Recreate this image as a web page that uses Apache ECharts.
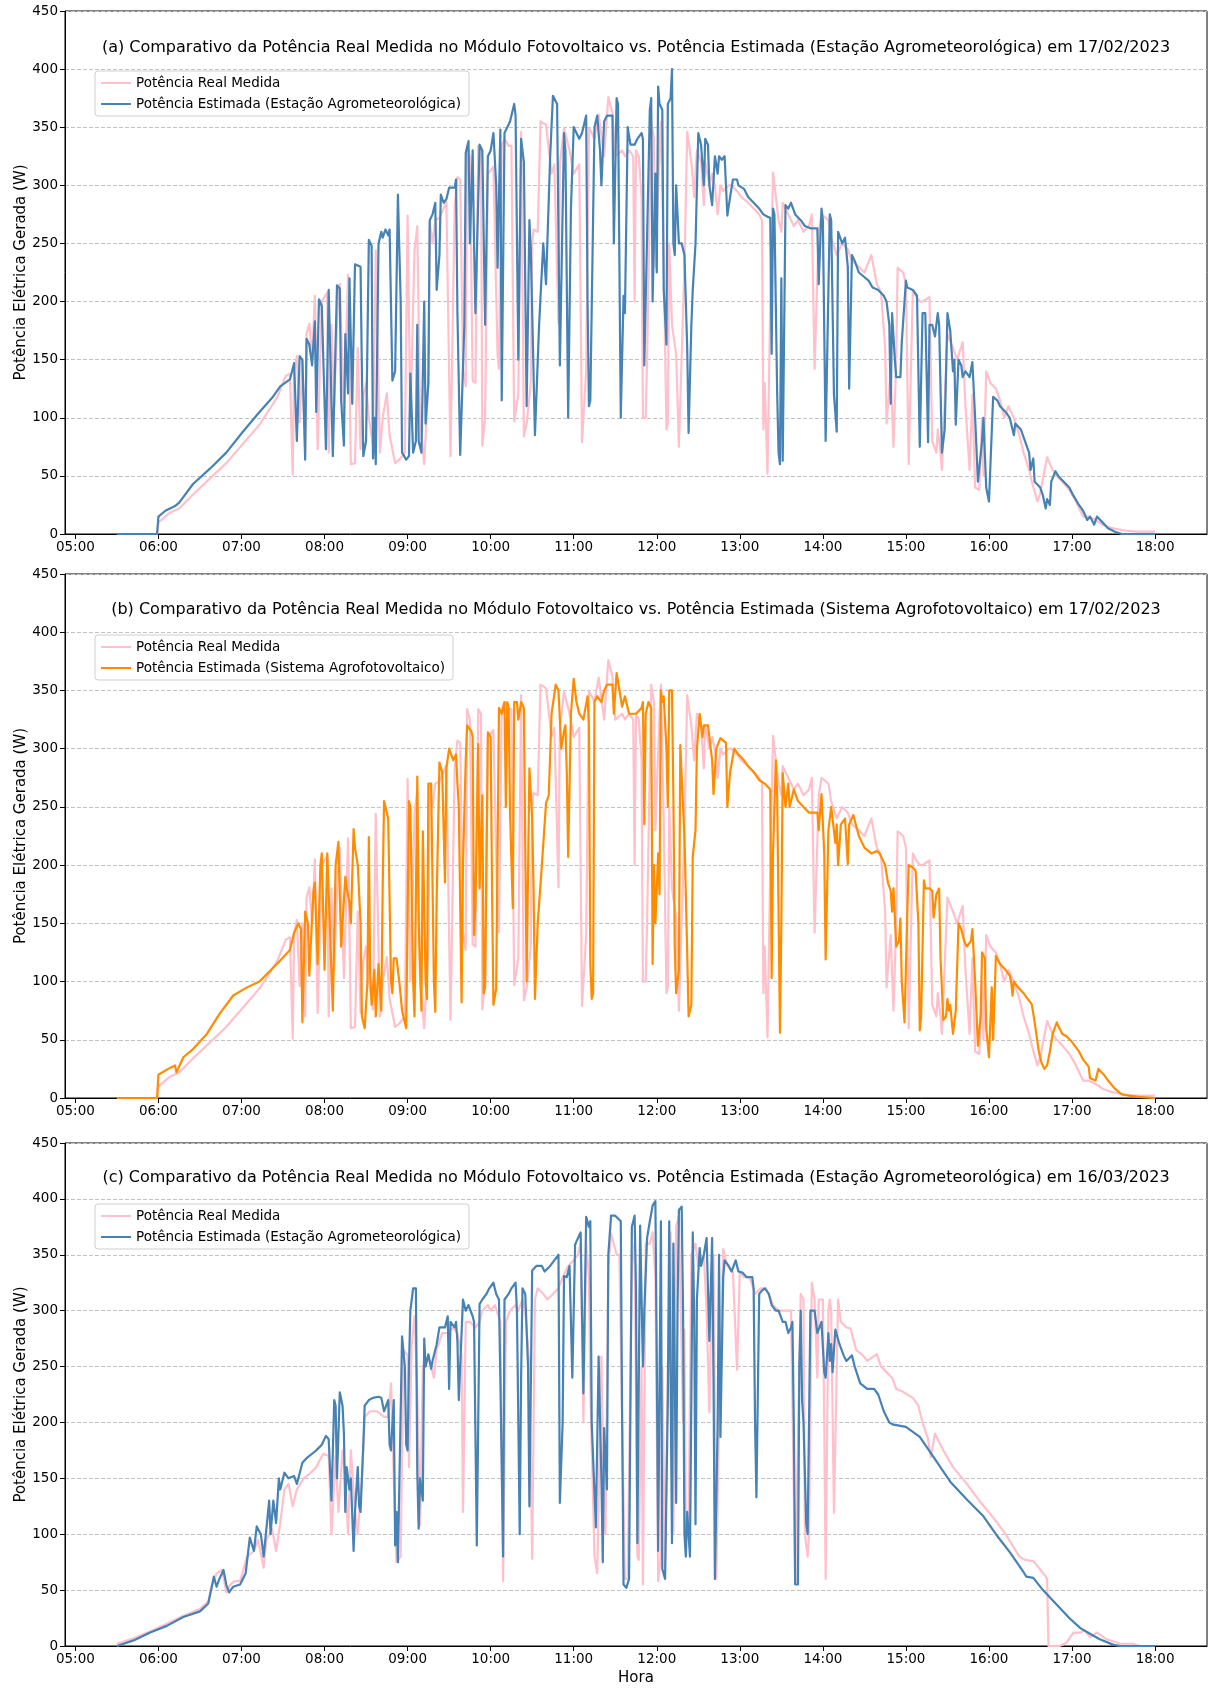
<!DOCTYPE html>
<html><head><meta charset="utf-8">
<script src="https://cdn.jsdelivr.net/npm/echarts@6/dist/echarts.min.js"></script>
<style>html,body{margin:0;padding:0;background:#fff}#c{width:1209px;height:1690px}</style>
</head><body><div id="c"></div>
<script>
// ---- Data (time "HH:MM", power W) ----
const realFeb = [["05:30",0],["05:59",0],["06:00",10],["06:08",18],["06:15",22],["06:25",34],["06:49",61],["07:13",94],["07:26",118],["07:32",136],["07:35",138],["07:37",51],["07:38",140],["07:40",153],["07:42",96],["07:44",150],["07:46",70],["07:47",172],["07:49",181],["07:51",150],["07:53",205],["07:55",73],["07:58",200],["08:02",208],["08:03",70],["08:05",180],["08:07",110],["08:10",210],["08:11",215],["08:14",103],["08:17",223],["08:19",60],["08:22",61],["08:24",160],["08:26",73],["08:28",118],["08:30",130],["08:32",100],["08:35",76],["08:37",244],["08:40",70],["08:42",100],["08:45",121],["08:47",85],["08:51",61],["08:54",64],["08:58",70],["09:00",274],["09:02",100],["09:05",244],["09:07",265],["09:09",100],["09:12",60],["09:15",130],["09:16",268],["09:18",250],["09:20",270],["09:23",272],["09:26",280],["09:28",286],["09:31",67],["09:34",283],["09:36",307],["09:38",305],["09:40",142],["09:42",127],["09:43",334],["09:45",325],["09:47",132],["09:49",130],["09:51",334],["09:53",330],["09:54",76],["09:56",100],["09:58",310],["10:02",316],["10:05",154],["10:06",142],["10:08",334],["10:10",340],["10:13",334],["10:15",334],["10:17",97],["10:20",120],["10:22",346],["10:24",84],["10:26",95],["10:29",130],["10:30",250],["10:31",262],["10:34",260],["10:36",355],["10:40",352],["10:44",310],["10:46",318],["10:49",181],["10:50",318],["10:53",349],["10:57",330],["11:00",310],["11:04",318],["11:06",79],["11:09",140],["11:11",349],["11:13",345],["11:15",340],["11:18",361],["11:22",325],["11:25",376],["11:28",362],["11:30",325],["11:35",330],["11:37",325],["11:40",330],["11:43",325],["11:44",200],["11:45",330],["11:47",325],["11:49",290],["11:50",100],["11:52",100],["11:53",150],["11:56",355],["11:58",340],["11:59",230],["12:02",330],["12:03",355],["12:05",240],["12:07",90],["12:08",95],["12:09",250],["12:11",180],["12:14",155],["12:16",75],["12:17",75],["12:20",230],["12:22",346],["12:25",320],["12:27",290],["12:29",330],["12:32",320],["12:34",283],["12:35",320],["12:38",300],["12:40",310],["12:42",300],["12:44",275],["12:46",300],["12:48",295],["12:52",300],["12:54",300],["12:58",295],["13:01",290],["13:06",285],["13:10",280],["13:14",275],["13:16",270],["13:17",90],["13:18",130],["13:20",52],["13:22",200],["13:24",311],["13:26",290],["13:28",270],["13:30",260],["13:31",285],["13:35",275],["13:39",265],["13:42",270],["13:46",260],["13:50",265],["13:52",275],["13:54",142],["13:57",260],["13:59",275],["14:04",270],["14:06",255],["14:10",240],["14:14",250],["14:18",245],["14:21",235],["14:26",230],["14:30",225],["14:35",240],["14:39",215],["14:42",208],["14:45",160],["14:46",95],["14:49",140],["14:51",75],["14:53",150],["14:54",229],["14:58",225],["15:00",215],["15:02",60],["15:05",210],["15:07",205],["15:10",200],["15:12",200],["15:17",204],["15:19",80],["15:22",70],["15:23",90],["15:25",70],["15:26",55],["15:30",172],["15:34",160],["15:37",150],["15:41",165],["15:43",110],["15:46",55],["15:48",120],["15:50",40],["15:53",38],["15:55",100],["15:56",50],["15:58",140],["16:01",130],["16:05",125],["16:08",115],["16:11",100],["16:14",110],["16:18",100],["16:22",85],["16:25",70],["16:29",55],["16:31",45],["16:35",28],["16:37",35],["16:42",66],["16:46",55],["16:49",50],["16:53",45],["16:58",38],["17:02",30],["17:06",20],["17:08",15],["17:12",15],["17:17",12],["17:22",8],["17:29",5],["17:38",3],["17:46",2],["18:00",2]];

const estStationFeb = [["05:30",0],["05:59",0],["06:00",15],["06:05",20],["06:12",24],["06:15",27],["06:25",43],["06:37",56],["06:49",70],["07:01",88],["07:13",105],["07:22",117],["07:28",127],["07:35",133],["07:38",147],["07:40",80],["07:42",153],["07:44",150],["07:46",64],["07:47",168],["07:49",163],["07:51",145],["07:53",183],["07:54",105],["07:56",202],["07:58",196],["08:01",73],["08:03",210],["08:06",67],["08:09",214],["08:11",211],["08:12",115],["08:14",76],["08:15",172],["08:17",121],["08:18",220],["08:20",112],["08:22",232],["08:26",230],["08:27",139],["08:28",67],["08:30",80],["08:32",253],["08:34",248],["08:35",65],["08:36",100],["08:37",60],["08:39",250],["08:41",260],["08:42",255],["08:44",262],["08:46",257],["08:47",262],["08:49",132],["08:51",140],["08:53",292],["08:55",200],["08:56",70],["08:59",64],["09:01",67],["09:02",138],["09:04",70],["09:06",80],["09:07",180],["09:08",80],["09:10",70],["09:12",200],["09:13",95],["09:15",130],["09:16",270],["09:18",275],["09:20",285],["09:21",210],["09:23",240],["09:24",292],["09:26",285],["09:28",288],["09:30",298],["09:34",298],["09:35",305],["09:36",190],["09:38",68],["09:41",180],["09:42",328],["09:44",338],["09:45",250],["09:47",330],["09:48",250],["09:49",190],["09:52",335],["09:54",330],["09:56",180],["09:58",325],["10:00",330],["10:02",345],["10:04",300],["10:05",229],["10:07",348],["10:08",115],["10:10",345],["10:12",350],["10:14",355],["10:17",370],["10:18",360],["10:20",150],["10:22",340],["10:24",320],["10:26",110],["10:28",270],["10:29",245],["10:32",85],["10:35",180],["10:38",250],["10:40",215],["10:43",325],["10:45",377],["10:48",370],["10:50",145],["10:53",345],["10:54",330],["10:56",100],["10:58",280],["11:00",350],["11:02",345],["11:04",340],["11:06",345],["11:09",360],["11:10",200],["11:11",110],["11:12",115],["11:15",350],["11:17",360],["11:19",330],["11:20",300],["11:22",355],["11:24",360],["11:28",360],["11:29",250],["11:31",375],["11:32",370],["11:34",100],["11:36",205],["11:37",190],["11:39",350],["11:41",335],["11:44",335],["11:46",340],["11:49",345],["11:50",340],["11:51",145],["11:52",145],["11:55",365],["11:56",375],["11:57",200],["11:59",310],["12:00",225],["12:01",385],["12:02",370],["12:04",365],["12:05",211],["12:07",163],["12:08",370],["12:10",375],["12:11",400],["12:12",250],["12:13",240],["12:14",300],["12:16",250],["12:18",250],["12:20",240],["12:22",160],["12:23",87],["12:25",180],["12:26",210],["12:28",250],["12:30",345],["12:32",335],["12:34",300],["12:35",340],["12:37",335],["12:38",300],["12:40",283],["12:42",325],["12:44",310],["12:45",325],["12:47",322],["12:49",325],["12:51",274],["12:53",290],["12:55",305],["12:58",305],["12:59",300],["13:03",297],["13:06",290],["13:10",285],["13:14",280],["13:17",275],["13:20",273],["13:22",272],["13:23",155],["13:24",280],["13:25",275],["13:27",120],["13:28",70],["13:29",60],["13:30",220],["13:31",63],["13:33",283],["13:35",280],["13:37",285],["13:40",275],["13:44",270],["13:47",265],["13:51",263],["13:56",263],["13:57",215],["13:59",280],["14:00",270],["14:02",80],["14:04",210],["14:05",275],["14:06",270],["14:08",120],["14:10",88],["14:11",260],["14:14",250],["14:16",255],["14:18",230],["14:19",125],["14:21",240],["14:23",235],["14:26",225],["14:29",222],["14:33",218],["14:36",212],["14:40",210],["14:44",205],["14:46",200],["14:48",180],["14:49",112],["14:50",190],["14:52",150],["14:53",135],["14:56",135],["14:57",165],["15:00",218],["15:01",212],["15:05",210],["15:08",205],["15:10",75],["15:11",75],["15:12",190],["15:14",190],["15:16",79],["15:17",180],["15:19",180],["15:21",170],["15:23",190],["15:24",180],["15:26",70],["15:28",90],["15:30",190],["15:32",175],["15:34",140],["15:35",150],["15:36",94],["15:38",150],["15:40",145],["15:41",135],["15:43",140],["15:46",135],["15:48",148],["15:50",100],["15:52",45],["15:53",45],["15:55",80],["15:56",100],["15:58",40],["16:00",28],["16:03",118],["16:06",115],["16:08",110],["16:12",105],["16:15",100],["16:18",85],["16:19",95],["16:23",90],["16:26",80],["16:29",70],["16:30",55],["16:32",65],["16:33",45],["16:37",40],["16:39",33],["16:41",22],["16:42",30],["16:44",25],["16:45",45],["16:48",54],["16:50",50],["16:54",45],["16:58",40],["17:01",33],["17:05",25],["17:08",20],["17:11",12],["17:13",15],["17:16",8],["17:18",15],["17:22",10],["17:26",5],["17:31",2],["17:36",0],["18:00",0]];

const estAgroFeb = [["05:30",0],["05:59",0],["06:00",20],["06:07",25],["06:12",28],["06:13",22],["06:18",35],["06:25",42],["06:35",55],["06:44",72],["06:54",88],["07:04",95],["07:13",100],["07:18",106],["07:28",118],["07:35",127],["07:38",142],["07:41",150],["07:43",145],["07:44",65],["07:46",160],["07:48",150],["07:49",105],["07:50",130],["07:52",178],["07:53",185],["07:55",115],["07:57",200],["07:58",210],["08:00",110],["08:02",210],["08:03",210],["08:06",75],["08:08",200],["08:10",220],["08:12",130],["08:15",190],["08:16",180],["08:18",168],["08:19",150],["08:21",231],["08:22",215],["08:24",200],["08:26",150],["08:27",70],["08:29",60],["08:31",100],["08:32",224],["08:33",105],["08:34",80],["08:36",110],["08:37",70],["08:39",115],["08:41",75],["08:42",181],["08:43",255],["08:44",250],["08:46",240],["08:48",100],["08:49",90],["08:50",120],["08:52",120],["08:54",100],["08:56",75],["08:59",60],["09:01",255],["09:02",250],["09:04",100],["09:05",70],["09:07",276],["09:08",150],["09:10",75],["09:11",229],["09:13",100],["09:14",85],["09:15",270],["09:17",270],["09:19",100],["09:20",74],["09:21",170],["09:23",288],["09:25",280],["09:27",185],["09:28",283],["09:30",300],["09:33",290],["09:35",295],["09:36",270],["09:37",250],["09:39",82],["09:40",200],["09:42",290],["09:43",320],["09:46",315],["09:47",310],["09:48",140],["09:49",166],["09:51",304],["09:52",180],["09:54",260],["09:55",90],["09:56",95],["09:58",314],["10:00",310],["10:01",180],["10:02",80],["10:04",94],["10:06",335],["10:08",330],["10:10",340],["10:11",250],["10:12",340],["10:13",335],["10:14",245],["10:16",163],["10:17",340],["10:19",340],["10:20",325],["10:22",340],["10:24",335],["10:26",100],["10:28",283],["10:30",240],["10:31",180],["10:32",85],["10:34",150],["10:37",200],["10:40",253],["10:42",260],["10:44",330],["10:47",355],["10:49",350],["10:51",300],["10:53",315],["10:54",320],["10:55",280],["10:56",207],["10:58",330],["11:00",360],["11:02",340],["11:04",330],["11:07",325],["11:10",345],["11:11",320],["11:12",115],["11:13",85],["11:14",90],["11:15",340],["11:17",345],["11:20",340],["11:22",350],["11:24",355],["11:28",355],["11:29",330],["11:31",365],["11:32",365],["11:35",336],["11:37",345],["11:40",330],["11:45",330],["11:49",335],["11:50",340],["11:51",235],["11:52",330],["11:54",340],["11:56",335],["11:57",115],["11:58",200],["11:59",150],["12:01",210],["12:02",175],["12:03",350],["12:04",340],["12:05",345],["12:07",300],["12:08",250],["12:09",350],["12:11",350],["12:12",260],["12:13",130],["12:14",90],["12:16",110],["12:17",303],["12:19",250],["12:20",225],["12:21",225],["12:22",125],["12:23",70],["12:25",80],["12:26",207],["12:28",230],["12:29",300],["12:31",330],["12:33",310],["12:34",320],["12:37",320],["12:38",310],["12:40",290],["12:41",261],["12:43",300],["12:44",300],["12:46",309],["12:50",305],["12:51",250],["12:53",280],["12:56",300],["12:59",295],["13:03",290],["13:06",285],["13:10",280],["13:14",273],["13:18",270],["13:22",265],["13:23",103],["13:24",210],["13:26",290],["13:27",260],["13:29",56],["13:30",150],["13:31",279],["13:33",250],["13:35",270],["13:36",250],["13:39",265],["13:42",255],["13:46",250],["13:50",245],["13:53",245],["13:56",245],["13:57",230],["13:59",261],["14:01",210],["14:02",119],["14:04",230],["14:06",250],["14:07",240],["14:09",219],["14:10",235],["14:11",200],["14:13",235],["14:16",240],["14:18",201],["14:19",235],["14:22",243],["14:26",225],["14:30",215],["14:35",210],["14:39",212],["14:41",210],["14:45",200],["14:47",185],["14:49",178],["14:50",160],["14:51",180],["14:53",130],["14:55",135],["14:56",154],["14:57",100],["14:59",65],["15:01",160],["15:02",200],["15:05",198],["15:07",195],["15:09",150],["15:10",58],["15:11",70],["15:13",187],["15:14",180],["15:17",180],["15:19",178],["15:20",155],["15:22",175],["15:24",180],["15:25",120],["15:27",67],["15:29",70],["15:30",85],["15:31",75],["15:32",80],["15:34",55],["15:36",75],["15:38",150],["15:40",145],["15:42",135],["15:44",130],["15:47",135],["15:48",145],["15:50",100],["15:52",45],["15:54",70],["15:55",125],["15:57",120],["15:58",60],["16:00",35],["16:02",95],["16:03",50],["16:05",122],["16:08",115],["16:12",110],["16:15",105],["16:16",100],["16:17",88],["16:18",100],["16:21",95],["16:25",90],["16:28",85],["16:30",82],["16:31",80],["16:33",65],["16:36",40],["16:38",30],["16:40",25],["16:42",28],["16:44",40],["16:46",55],["16:49",65],["16:50",62],["16:53",55],["16:56",53],["17:00",48],["17:05",40],["17:08",33],["17:12",27],["17:13",17],["17:17",15],["17:19",25],["17:23",20],["17:26",15],["17:31",8],["17:36",3],["17:41",2],["17:48",1],["18:00",0]];

const realMar = [["05:30",2],["05:42",7],["05:54",13],["06:06",20],["06:18",27],["06:30",33],["06:36",40],["06:39",55],["06:42",65],["06:46",68],["06:49",48],["06:52",55],["06:55",58],["06:59",58],["07:04",80],["07:09",85],["07:12",95],["07:16",70],["07:18",95],["07:22",105],["07:25",85],["07:28",110],["07:31",140],["07:34",145],["07:37",125],["07:40",140],["07:45",150],["07:50",155],["07:54",160],["07:59",172],["08:03",170],["08:05",100],["08:08",170],["08:10",120],["08:13",175],["08:15",150],["08:17",100],["08:19",175],["08:22",120],["08:24",100],["08:27",150],["08:29",205],["08:33",210],["08:38",210],["08:43",205],["08:46",205],["08:48",235],["08:50",150],["08:52",75],["08:55",80],["08:57",265],["09:00",260],["09:01",160],["09:03",270],["09:05",295],["09:07",230],["09:09",108],["09:11",250],["09:13",255],["09:16",255],["09:19",240],["09:21",265],["09:25",280],["09:29",280],["09:33",285],["09:36",280],["09:39",260],["09:40",120],["09:42",290],["09:45",290],["09:49",285],["09:52",290],["09:54",300],["09:58",305],["10:00",300],["10:03",305],["10:07",290],["10:09",58],["10:11",290],["10:14",300],["10:18",305],["10:20",300],["10:23",310],["10:25",300],["10:28",250],["10:30",78],["10:32",310],["10:34",320],["10:38",315],["10:41",310],["10:45",315],["10:49",320],["10:52",330],["10:56",340],["11:00",345],["11:03",350],["11:05",360],["11:07",200],["11:09",360],["11:11",330],["11:12",230],["11:15",80],["11:17",65],["11:20",259],["11:22",110],["11:23",100],["11:25",340],["11:27",369],["11:31",350],["11:33",350],["11:35",200],["11:37",60],["11:39",60],["11:42",340],["11:44",360],["11:46",80],["11:47",77],["11:49",250],["11:50",55],["11:52",360],["11:55",360],["11:57",370],["11:59",330],["12:01",58],["12:03",80],["12:04",250],["12:06",70],["12:08",250],["12:10",370],["12:12",100],["12:14",375],["12:16",385],["12:19",200],["12:20",283],["12:21",100],["12:23",100],["12:25",350],["12:28",360],["12:30",340],["12:34",350],["12:36",300],["12:38",209],["12:40",340],["12:41",350],["12:43",60],["12:45",200],["12:48",355],["12:51",340],["12:55",335],["12:58",247],["13:00",335],["13:03",330],["13:07",330],["13:11",315],["13:15",320],["13:19",320],["13:24",305],["13:28",300],["13:31",300],["13:34",300],["13:37",300],["13:40",56],["13:41",55],["13:43",250],["13:44",315],["13:46",310],["13:47",100],["13:49",80],["13:50",100],["13:52",325],["13:54",310],["13:56",240],["13:57",310],["14:00",310],["14:01",200],["14:02",60],["14:04",300],["14:05",310],["14:06",300],["14:08",119],["14:11",310],["14:13",290],["14:17",285],["14:20",284],["14:24",265],["14:29",260],["14:32",255],["14:39",261],["14:42",250],["14:46",245],["14:50",240],["14:53",230],["14:57",228],["15:01",225],["15:05",222],["15:09",215],["15:12",200],["15:16",185],["15:18",169],["15:21",190],["15:27",175],["15:34",160],["15:44",145],["15:53",130],["16:03",115],["16:12",100],["16:22",80],["16:26",77],["16:32",76],["16:36",70],["16:41",62],["16:42",60],["16:43",0],["16:51",0],["16:56",3],["17:01",12],["17:06",12],["17:09",14],["17:13",8],["17:18",12],["17:25",6],["17:35",2],["17:44",2],["17:49",0],["18:00",0]];

const estStationMar = [["05:30",0],["05:42",5],["05:54",12],["06:06",18],["06:18",26],["06:30",31],["06:36",38],["06:40",62],["06:42",53],["06:44",60],["06:47",68],["06:49",55],["06:51",48],["06:54",53],["06:59",55],["07:03",65],["07:06",97],["07:09",85],["07:11",107],["07:14",100],["07:16",80],["07:18",105],["07:20",130],["07:21",100],["07:23",130],["07:25",110],["07:27",150],["07:28",140],["07:31",155],["07:34",150],["07:38",152],["07:40",145],["07:44",164],["07:47",168],["07:51",172],["07:54",175],["07:58",180],["08:01",188],["08:03",185],["08:05",130],["08:07",220],["08:08",215],["08:09",150],["08:11",227],["08:13",215],["08:14",190],["08:15",120],["08:16",160],["08:18",140],["08:19",150],["08:21",85],["08:22",120],["08:24",160],["08:25",125],["08:26",120],["08:28",180],["08:29",215],["08:32",220],["08:35",222],["08:39",223],["08:41",222],["08:43",210],["08:46",220],["08:47",180],["08:48",175],["08:50",220],["08:51",90],["08:52",120],["08:53",75],["08:54",75],["08:56",277],["08:58",250],["08:59",180],["09:00",175],["09:01",250],["09:02",300],["09:04",320],["09:06",320],["09:07",155],["09:08",105],["09:09",150],["09:11",130],["09:12",275],["09:13",250],["09:15",261],["09:17",248],["09:18",255],["09:21",270],["09:23",285],["09:27",285],["09:29",295],["09:30",230],["09:31",290],["09:34",285],["09:35",290],["09:36",272],["09:37",220],["09:40",310],["09:42",300],["09:44",305],["09:47",295],["09:48",290],["09:50",90],["09:52",306],["09:54",310],["09:57",315],["09:59",320],["10:02",325],["10:04",315],["10:06",310],["10:07",240],["10:09",80],["10:10",310],["10:13",315],["10:15",320],["10:18",325],["10:19",300],["10:21",100],["10:22",240],["10:23",320],["10:25",315],["10:27",250],["10:28",125],["10:30",336],["10:33",340],["10:37",340],["10:39",335],["10:43",340],["10:46",345],["10:49",350],["10:50",128],["10:52",200],["10:53",331],["10:55",330],["10:57",340],["10:59",240],["11:01",359],["11:02",362],["11:05",370],["11:07",226],["11:09",384],["11:11",375],["11:12",380],["11:13",200],["11:16",106],["11:18",259],["11:20",150],["11:21",75],["11:22",195],["11:24",140],["11:25",350],["11:27",385],["11:30",385],["11:34",380],["11:35",200],["11:36",55],["11:38",52],["11:40",60],["11:42",375],["11:44",385],["11:45",320],["11:46",92],["11:48",376],["11:50",250],["11:51",300],["11:53",365],["11:55",380],["11:57",394],["11:59",398],["12:00",260],["12:01",85],["12:03",380],["12:04",69],["12:06",60],["12:08",220],["12:09",380],["12:10",380],["12:11",92],["12:12",360],["12:14",128],["12:15",300],["12:16",390],["12:18",393],["12:19",300],["12:20",100],["12:21",80],["12:22",120],["12:24",80],["12:26",370],["12:27",300],["12:28",109],["12:29",310],["12:31",356],["12:32",340],["12:34",350],["12:36",365],["12:38",273],["12:40",365],["12:41",240],["12:42",60],["12:44",200],["12:45",350],["12:46",187],["12:48",330],["12:49",345],["12:52",340],["12:54",335],["12:57",345],["12:59",335],["13:02",334],["13:05",330],["13:09",330],["13:10",320],["13:11",200],["13:12",133],["13:14",315],["13:16",318],["13:18",320],["13:21",315],["13:23",305],["13:26",300],["13:28",300],["13:31",290],["13:33",290],["13:35",280],["13:37",285],["13:38",290],["13:39",200],["13:40",55],["13:42",55],["13:43",250],["13:44",300],["13:45",220],["13:46",200],["13:48",109],["13:49",100],["13:51",300],["13:54",300],["13:56",280],["13:59",290],["14:01",245],["14:02",240],["14:04",280],["14:05",255],["14:06",270],["14:07",245],["14:09",283],["14:12",270],["14:15",260],["14:17",255],["14:21",260],["14:23",250],["14:27",235],["14:32",230],["14:37",230],["14:40",225],["14:44",210],["14:48",200],["14:51",198],["14:56",197],["15:00",196],["15:10",187],["15:20",169],["15:32",147],["15:44",131],["15:56",116],["16:05",100],["16:15",84],["16:25",66],["16:27",62],["16:32",61],["16:39",50],["16:49",37],["16:58",25],["17:06",16],["17:13",11],["17:20",6],["17:30",1],["17:35",0],["18:00",0]];

const hourTicks = [5,6,7,8,9,10,11,12,13,14,15,16,17,18];
const titles = [
  "(a) Comparativo da Potência Real Medida no Módulo Fotovoltaico vs. Potência Estimada (Estação Agrometeorológica) em 17/02/2023",
  "(b) Comparativo da Potência Real Medida no Módulo Fotovoltaico vs. Potência Estimada (Sistema Agrofotovoltaico) em 17/02/2023",
  "(c) Comparativo da Potência Real Medida no Módulo Fotovoltaico vs. Potência Estimada (Estação Agrometeorológica) em 16/03/2023"
];
const nameReal = "Potência Real Medida";
const nameStation = "Potência Estimada (Estação Agrometeorológica)";
const nameAgro = "Potência Estimada (Sistema Agrofotovoltaico)";

// ---- Build chart ----
const toH = s => { const p = s.split(':'); return +p[0] + (+p[1]) / 60; };
const conv = arr => arr.map(d => [toH(d[0]), d[1]]);
const FONT = "DejaVu Sans";
const pad2 = n => (n < 10 ? '0' : '') + n;
const fmt = v => { const h = Math.floor(v + 1e-6); const m = Math.round((v - h) * 60); return pad2(h) + ':' + pad2(m); };

const panels = [
  {top: 11, height: 523, est: estStationFeb, real: realFeb, estName: nameStation, estColor: '#4682B4', titleTop: 40, legendTop: 71},
  {top: 574, height: 524, est: estAgroFeb, real: realFeb, estName: nameAgro, estColor: '#FF8C00', titleTop: 602, legendTop: 635},
  {top: 1143, height: 503, est: estStationMar, real: realMar, estName: nameStation, estColor: '#4682B4', titleTop: 1170, legendTop: 1204}
];
const GL = 65, GW = 1142;

const option = {
  animation: false,
  backgroundColor: '#fff',
  textStyle: {fontFamily: FONT},
  title: panels.map((p, i) => ({
    text: titles[i], left: GL + GW / 2, top: p.titleTop, textAlign: 'center', padding: 0,
    textStyle: {fontFamily: FONT, fontSize: 16, fontWeight: 'normal', color: '#000'}
  })),
  grid: panels.map(p => ({left: GL, width: GW, top: p.top, height: p.height, show: true, borderColor: '#000', borderWidth: 1, backgroundColor: 'transparent'})),
  legend: panels.map((p, i) => ({
    gridIndex: i, orient: 'vertical', left: 95, top: p.legendTop,
    data: [nameReal, p.estName].map(n => ({name: n, itemStyle: {color: n === nameReal ? '#FFC0CB' : p.estColor}})),
    icon: 'rect', itemWidth: 30, itemHeight: 2, itemGap: 7,
    padding: [5, 8, 5, 6], borderColor: '#cfcfcf', borderWidth: 1, borderRadius: 3,
    backgroundColor: 'rgba(255,255,255,0.85)', selectedMode: false,
    textStyle: {fontFamily: FONT, fontSize: 13.5, color: '#000'}
  })),
  xAxis: panels.map((p, i) => ({
    type: 'value', gridIndex: i, min: 4.875, max: 18.625,
    name: i === 2 ? 'Hora' : '', nameLocation: 'middle', nameGap: 25, nameMoveOverlap: false,
    nameTextStyle: {fontFamily: FONT, fontSize: 15, color: '#000'},
    axisLine: {show: true, onZero: false, lineStyle: {color: '#000', width: 1}},
    axisTick: {show: true, length: 5, lineStyle: {color: '#000'}, customValues: hourTicks},
    axisLabel: {fontFamily: FONT, fontSize: 13.5, color: '#000', margin: 6, customValues: hourTicks, formatter: v => fmt(v)},
    splitLine: {show: false}
  })),
  yAxis: panels.map((p, i) => ({
    type: 'value', gridIndex: i, min: 0, max: 450, interval: 50,
    name: 'Potência Elétrica Gerada (W)', nameLocation: 'middle', nameGap: 36, nameMoveOverlap: false,
    nameTextStyle: {fontFamily: FONT, fontSize: 15, color: '#000'},
    axisLine: {show: true, lineStyle: {color: '#000', width: 1}},
    axisTick: {show: true, length: 5, lineStyle: {color: '#000'}},
    axisLabel: {fontFamily: FONT, fontSize: 13.5, color: '#000', margin: 7},
    splitLine: {show: true, lineStyle: {color: '#c4c4c4', width: 1, type: [4, 2]}}
  })),
  series: []
};
panels.forEach((p, i) => {
  option.series.push({name: nameReal, type: 'line', xAxisIndex: i, yAxisIndex: i, data: conv(p.real), showSymbol: false, symbol: 'none', lineStyle: {color: '#FFC0CB', width: 2.2, join: 'round'}, itemStyle: {color: '#FFC0CB'}, z: 2});
  option.series.push({name: p.estName, type: 'line', xAxisIndex: i, yAxisIndex: i, data: conv(p.est), showSymbol: false, symbol: 'none', lineStyle: {color: p.estColor, width: 2.2, join: 'round'}, itemStyle: {color: p.estColor}, z: 3});
});

const chart = echarts.init(document.getElementById('c'), null, {renderer: 'canvas'});
chart.setOption(option);
</script></body></html>
